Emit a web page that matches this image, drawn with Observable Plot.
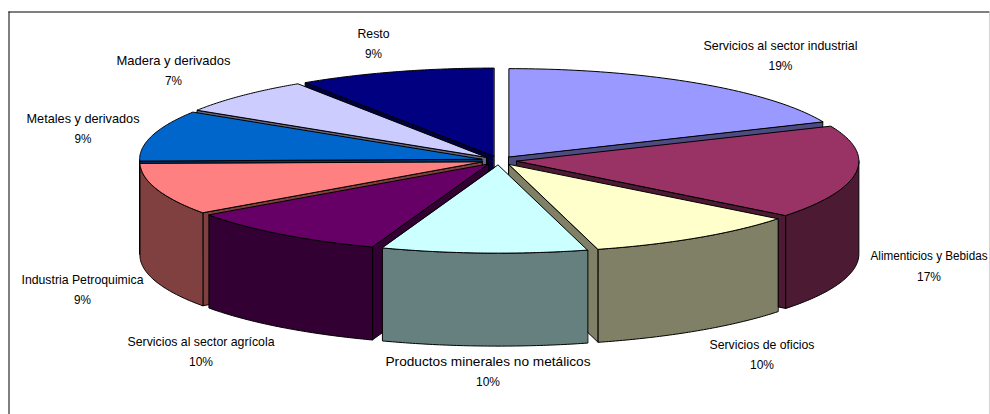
<!DOCTYPE html>
<html>
<head>
<meta charset="utf-8">
<script src="https://cdn.jsdelivr.net/npm/d3@7"></script>
<script src="https://cdn.jsdelivr.net/npm/@observablehq/plot@0.6"></script>
<style>
html,body{margin:0;padding:0;background:#fff;overflow:hidden}
svg{display:block}
</style>
</head>
<body>
<div id="chart"></div>
<script>
// Data
const categories = ["Servicios al sector industrial","Alimenticios y Bebidas","Servicios de oficios","Productos minerales no metálicos","Servicios al sector agrícola","Industria Petroquimica","Metales y derivados","Madera y derivados","Resto"];
const shares = [18.5, 17.1, 10.2, 9.7, 9.7, 9.47, 9.3, 6.73, 9.3];
const percentLabels = ["19%","17%","10%","10%","10%","9%","9%","7%","9%"];

// Styles and layout, kept apart from the data
const topColors = ["#9999FF","#993366","#FFFFCC","#CCFFFF","#660066","#FF8080","#0066CC","#CCCCFF","#000080"];
const sideColors = ["#4C4C80","#4D1A33","#808066","#668080","#330033","#804040","#003366","#666680","#000040"];
const labelX = [780,928.5,761.5,487.5,200.5,82,82.5,173,373];
const labelY = [45,256,344,361,341,279,118,60,33];
const labelWidth = [154,117,105,205,147,122,113,114,32];
const labelSize = [13,12,13,13,13,13,13,13,13];
const percentWidth = [24,24,24,24,24,17,17,17,17];
const lineGap = 20.5;
const W = 990, H = 414;
const cx = 498.5, cy = 160, rx = 342, ry = 88, depth = 93, explode = 18;

const rad = d => d * Math.PI / 180;
const total = d3.sum(shares);
let acc = 0;
const slices = shares.map((s, i) => {
  const a0 = acc / total * 360; acc += s; const a1 = acc / total * 360;
  const mid = rad((a0 + a1) / 2);
  return {i, a0, a1, ax: cx + explode * Math.sin(mid), ay: cy - explode * (ry / rx) * Math.cos(mid), order: Math.cos(mid)};
});
const rim = (s, a) => [s.ax + rx * Math.sin(rad(a)), s.ay - ry * Math.cos(rad(a))];
const arc = (s, a0, a1) => d3.range(0, 61).map(k => rim(s, a0 + (a1 - a0) * k / 60));
const down = p => [p[0], p[1] + depth];
const poly = (pts, fill) => Plot.line(pts, {x: d => d[0], y: d => d[1], curve: "linear-closed", fill, stroke: "#000", strokeWidth: 1, strokeLinejoin: "round"});

const marks = [];
slices.slice().sort((a, b) => b.order - a.order).forEach(s => {
  const side = sideColors[s.i];
  const apex = [s.ax, s.ay];
  // radial cut faces that face the viewer
  if (s.a0 > 180) { const e = rim(s, s.a0); marks.push(poly([apex, e, down(e), down(apex)], side)); }
  if (s.a1 < 180) { const e = rim(s, s.a1); marks.push(poly([apex, e, down(e), down(apex)], side)); }
  // outer wall
  const w0 = Math.max(s.a0, 90), w1 = Math.min(s.a1, 270);
  if (w1 > w0) { const t = arc(s, w0, w1); marks.push(poly([...t, ...t.slice().reverse().map(down)], side)); }
  // top
  marks.push(poly([apex, ...arc(s, s.a0, s.a1)], topColors[s.i]));
});

const textBase = {fontFamily: "'Liberation Sans', Arial, sans-serif", fill: "#000", textAnchor: "middle"};
const idx = d3.range(categories.length);

const plot = Plot.plot({
  width: W, height: H,
  margin: 0,
  x: {domain: [0, W], range: [0, W], axis: null},
  y: {domain: [0, H], range: [0, H], axis: null},
  marks: [
    Plot.ruleX([8.5], {stroke: "#000", y1: 11.5, y2: H}),
    Plot.ruleY([11.5], {stroke: "#000", x1: 8.5, x2: 989.5}),
    Plot.ruleX([989.5], {stroke: "#a8a8a8", y1: 11.5, y2: H}),
    ...marks,
    Plot.text(idx, {...textBase, fontSize: i => labelSize[i], x: i => labelX[i], y: i => labelY[i], text: i => categories[i], className: "cat"}),
    Plot.text(idx, {...textBase, fontSize: 13, x: i => labelX[i], y: i => labelY[i] + lineGap, text: i => percentLabels[i], className: "pct"})
  ]
});
// Squeeze the glyphs to the narrow widths of the reference's lettering
const fit = (cls, widths) => d3.select(plot).selectAll(`g.${cls} text`).each(function(d, k) {
  this.setAttribute("textLength", widths[k]);
  this.setAttribute("lengthAdjust", "spacingAndGlyphs");
});
fit("cat", labelWidth);
fit("pct", percentWidth);
document.getElementById("chart").append(plot);
</script>
</body>
</html>
